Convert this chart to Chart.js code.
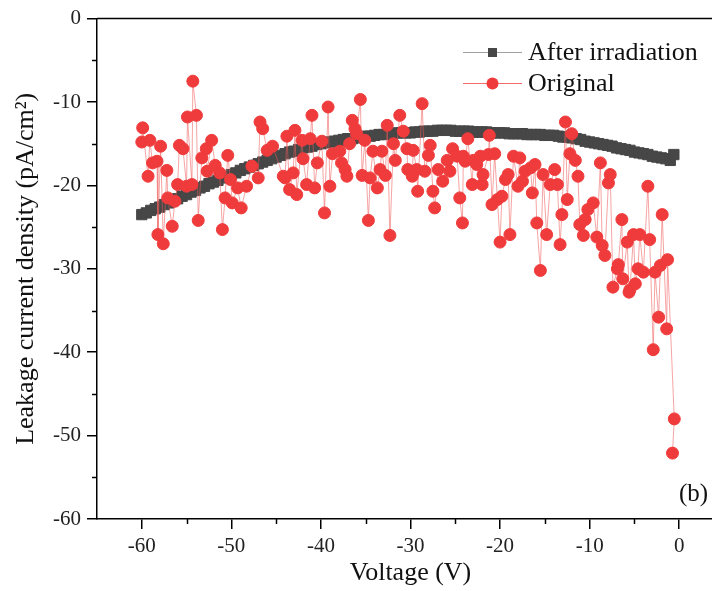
<!DOCTYPE html>
<html>
<head>
<meta charset="utf-8">
<script src="https://cdn.jsdelivr.net/npm/chart.js@4.4.1/dist/chart.umd.min.js"></script>
<style>
  html, body { margin: 0; padding: 0; background: #fff; overflow: hidden; }
  #wrap { width: 740px; height: 591px; }
</style>
</head>
<body>
<div id="wrap"><canvas id="chart" width="740" height="591"></canvas></div>
<script>
const X_MIN = -65, X_MAX = 5;
const Y_MIN = -60, Y_MAX = 0;
const MAJOR_X = [-60, -50, -40, -30, -20, -10, 0];
const MINOR_X = [-55, -45, -35, -25, -15, -5];
const MINOR_Y = [-5, -15, -25, -35, -45, -55];

const LABEL_AFTER = "After irradiation";
const LABEL_ORIG = "Original";
const PANEL = "(b)";

// After irradiation: voltage (V), current density (pA/cm2)
const afterV = [
  -60.0,-59.5,-59.0,-58.5,-58.0,-57.5,-57.0,-56.5,-56.0,-55.5,
  -55.0,-54.5,-54.0,-53.5,-53.0,-52.5,-52.0,-51.5,-51.0,-50.5,
  -50.0,-49.5,-49.0,-48.5,-48.0,-47.5,-47.0,-46.5,-46.0,-45.5,
  -45.0,-44.5,-44.0,-43.5,-43.0,-42.5,-42.0,-41.5,-41.0,-40.5,
  -40.0,-39.5,-39.0,-38.5,-38.0,-37.5,-37.0,-36.5,-36.0,-35.5,
  -35.0,-34.5,-34.0,-33.5,-33.0,-32.5,-32.0,-31.5,-31.0,-30.5,
  -30.0,-29.5,-29.0,-28.5,-28.0,-27.5,-27.0,-26.5,-26.0,-25.5,
  -25.0,-24.5,-24.0,-23.5,-23.0,-22.5,-22.0,-21.5,-21.0,-20.5,
  -20.0,-19.5,-19.0,-18.5,-18.0,-17.5,-17.0,-16.5,-16.0,-15.5,
  -15.0,-14.5,-14.0,-13.5,-13.0,-12.5,-12.0,-11.5,-11.0,-10.5,
  -10.0,-9.5,-9.0,-8.5,-8.0,-7.5,-7.0,-6.5,-6.0,-5.5,
  -5.0,-4.5,-4.0,-3.5,-3.0,-2.5,-2.0,-1.5,-1.0,-0.6
];
const afterI = [
  -23.5,-23.3,-23.0,-22.8,-22.6,-22.3,-22.1,-21.8,-21.6,-21.3,
  -21.1,-20.8,-20.6,-20.3,-20.1,-19.8,-19.6,-19.4,-19.1,-18.9,
  -18.7,-18.5,-18.2,-18.0,-17.8,-17.6,-17.4,-17.2,-17.0,-16.8,
  -16.6,-16.4,-16.2,-16.0,-15.9,-15.7,-15.5,-15.4,-15.3,-15.1,
  -15.0,-14.9,-14.8,-14.7,-14.6,-14.5,-14.4,-14.4,-14.3,-14.2,
  -14.1,-14.1,-14.0,-13.9,-13.9,-13.8,-13.8,-13.7,-13.7,-13.7,
  -13.7,-13.6,-13.6,-13.5,-13.5,-13.5,-13.4,-13.4,-13.4,-13.4,
  -13.5,-13.5,-13.5,-13.5,-13.6,-13.6,-13.6,-13.6,-13.7,-13.7,
  -13.7,-13.7,-13.8,-13.8,-13.8,-13.8,-13.9,-13.9,-13.9,-13.9,
  -14.0,-14.0,-14.0,-14.1,-14.2,-14.2,-14.3,-14.4,-14.5,-14.7,
  -14.8,-14.9,-15.0,-15.1,-15.2,-15.3,-15.5,-15.6,-15.7,-15.8,
  -16.0,-16.1,-16.2,-16.3,-16.5,-16.6,-16.7,-16.8,-17.0,-16.3
];

// Original: voltage (V), current density (pA/cm2)
const origV = [
  -60.0,-59.9,-59.3,-59.1,-58.8,-58.3,-58.2,-57.9,-57.6,-57.2,
  -57.1,-56.6,-56.3,-56.0,-55.8,-55.4,-55.0,-54.9,-54.4,-54.3,
  -53.9,-53.7,-53.3,-52.8,-52.7,-52.2,-51.8,-51.3,-51.0,-50.7,
  -50.4,-50.1,-49.9,-49.3,-48.9,-48.3,-47.7,-47.0,-46.8,-46.5,
  -46.0,-45.4,-44.2,-44.0,-43.8,-43.5,-43.1,-42.9,-42.7,-42.1,
  -42.0,-41.6,-41.2,-41.0,-40.7,-40.4,-39.9,-39.6,-39.2,-39.0,
  -38.7,-37.9,-37.7,-37.3,-37.1,-36.8,-36.5,-36.2,-36.0,-35.6,
  -35.4,-35.1,-34.7,-34.5,-34.2,-33.7,-33.4,-33.2,-32.8,-32.6,
  -32.3,-31.9,-31.7,-31.2,-30.8,-30.4,-30.3,-29.8,-29.7,-29.3,
  -29.2,-28.7,-28.4,-28.0,-27.8,-27.5,-27.3,-26.9,-26.4,-25.9,
  -25.6,-25.3,-24.8,-24.5,-24.2,-24.1,-23.9,-23.6,-23.1,-23.0,
  -22.6,-22.2,-22.0,-21.9,-21.3,-21.2,-20.9,-20.6,-20.3,-20.0,
  -19.8,-19.4,-19.1,-18.9,-18.5,-18.0,-17.8,-17.5,-17.2,-16.6,
  -16.4,-16.1,-15.9,-15.5,-15.2,-14.8,-14.4,-13.9,-13.6,-13.3,
  -13.1,-12.7,-12.5,-12.2,-12.0,-11.6,-11.3,-11.1,-10.7,-10.5,
  -10.2,-9.6,-9.2,-8.8,-8.6,-8.3,-7.9,-7.7,-7.4,-6.9,
  -6.8,-6.4,-6.3,-5.8,-5.6,-5.5,-5.1,-4.9,-4.6,-4.4,
  -4.0,-3.5,-3.3,-2.9,-2.7,-2.3,-2.1,-1.9,-1.4,-1.3,
  -0.55,-0.75
];
const origI = [
  -14.8,-13.1,-18.9,-14.6,-17.3,-17.1,-25.9,-15.3,-27.0,-18.2,
  -21.5,-24.9,-21.9,-19.9,-15.2,-15.6,-20.1,-11.8,-19.9,-7.5,
  -11.6,-24.2,-16.7,-15.6,-18.3,-14.6,-17.6,-18.5,-25.3,-21.5,
  -16.4,-19.3,-22.1,-20.3,-22.7,-20.1,-17.7,-19.1,-12.4,-13.2,
  -15.8,-15.3,-18.9,-19.1,-14.1,-20.5,-18.5,-13.4,-21.1,-14.6,
  -16.8,-19.9,-14.4,-11.6,-20.3,-17.3,-14.7,-23.3,-10.6,-20.1,
  -16.2,-15.9,-17.3,-18.1,-18.9,-15.0,-12.2,-13.2,-13.8,-9.7,
  -18.8,-14.6,-24.2,-19.1,-15.9,-20.3,-18.1,-15.9,-18.8,-12.8,
  -26.0,-15.0,-17.0,-11.6,-13.5,-15.6,-18.1,-18.9,-15.8,-18.1,
  -20.7,-10.2,-18.3,-16.4,-15.2,-20.7,-22.7,-18.1,-19.5,-17.0,
  -18.3,-15.6,-16.5,-21.5,-24.5,-16.5,-17.1,-14.4,-19.9,-17.0,
  -17.5,-16.5,-19.9,-18.7,-16.3,-14.0,-22.3,-16.2,-21.7,-26.8,
  -21.3,-19.3,-18.7,-25.9,-16.5,-20.1,-16.7,-19.5,-18.3,-17.9,
  -20.9,-17.5,-24.5,-30.2,-18.7,-25.9,-19.9,-18.1,-19.9,-27.1,
  -23.5,-12.4,-21.7,-16.2,-13.8,-17.0,-18.9,-24.7,-26.0,-24.1,
  -22.9,-22.1,-26.2,-17.3,-27.2,-28.4,-19.7,-18.7,-32.2,-30.0,
  -29.5,-24.1,-31.2,-26.8,-32.8,-32.5,-25.9,-31.8,-30.0,-25.9,
  -30.4,-20.1,-26.5,-39.7,-30.4,-35.8,-29.6,-23.5,-37.2,-28.9,
  -48.0,-52.1
];

const FONT = "'Liberation Serif', 'Times New Roman', serif";
const GRAY = "#474747";
const GRAY_LINE = "#a0a0a0";
const RED = "#ef3b3b";
const RED_LINE = "rgba(240, 90, 90, 0.55)";

function pts(xs, ys) {
  return xs.map((v, i) => ({ x: v, y: ys[i] }));
}

const extras = {
  id: "extras",
  afterDraw(chart) {
    const { ctx, chartArea: a, scales: { x, y } } = chart;
    ctx.save();
    ctx.strokeStyle = "#000";
    ctx.lineWidth = 1.5;
    ctx.beginPath();
    ctx.moveTo(a.left, a.top);
    ctx.lineTo(a.right, a.top);
    ctx.lineTo(a.right, a.bottom);
    for (const v of MINOR_X) {
      const px = Math.round(x.getPixelForValue(v)) + 0.5;
      ctx.moveTo(px, a.bottom);
      ctx.lineTo(px, a.bottom + 5);
    }
    for (const v of MINOR_Y) {
      const py = Math.round(y.getPixelForValue(v)) + 0.5;
      ctx.moveTo(a.left, py);
      ctx.lineTo(a.left - 5, py);
    }
    ctx.stroke();

    // legend
    const rows = [
      { label: LABEL_AFTER, line: GRAY_LINE, fill: GRAY, style: "rect", y: 52 },
      { label: LABEL_ORIG, line: "rgba(240, 70, 70, 0.8)", fill: RED, style: "circle", y: 83 }
    ];
    for (const r of rows) {
      ctx.strokeStyle = r.line;
      ctx.lineWidth = 1.2;
      ctx.beginPath();
      ctx.moveTo(463, r.y + 0.5);
      ctx.lineTo(522, r.y + 0.5);
      ctx.stroke();
      ctx.fillStyle = r.fill;
      if (r.style === "rect") {
        ctx.fillRect(488, r.y - 4, 9, 9);
      } else {
        ctx.beginPath();
        ctx.arc(492.5, r.y + 0.5, 6, 0, Math.PI * 2);
        ctx.fill();
      }
      ctx.fillStyle = "#111";
      ctx.font = "26px " + FONT;
      ctx.textBaseline = "alphabetic";
      ctx.textAlign = "left";
      ctx.fillText(r.label, 528, r.y + 8);
    }

    ctx.font = "25px " + FONT;
    ctx.fillText(PANEL, 679, 501);
    ctx.restore();
  }
};

new Chart(document.getElementById("chart"), {
  type: "line",
  data: {
    datasets: [
      {
        label: LABEL_AFTER,
        data: pts(afterV, afterI),
        order: 1,
        borderColor: GRAY_LINE,
        borderWidth: 1,
        pointStyle: "rect",
        pointRadius: 7.3,
        pointBackgroundColor: GRAY,
        pointBorderColor: GRAY,
        pointBorderWidth: 1,
        tension: 0
      },
      {
        label: LABEL_ORIG,
        data: pts(origV, origI),
        order: 0,
        borderColor: RED_LINE,
        borderWidth: 1,
        pointStyle: "circle",
        pointRadius: 6,
        pointBackgroundColor: RED,
        pointBorderColor: RED,
        pointBorderWidth: 1,
        tension: 0
      }
    ]
  },
  options: {
    responsive: false,
    animation: false,
    devicePixelRatio: 1,
    layout: { padding: { left: 0, top: 14, right: 16, bottom: 0 } },
    plugins: { legend: { display: false }, tooltip: { enabled: false } },
    scales: {
      x: {
        type: "linear",
        min: X_MIN,
        max: X_MAX,
        afterFit: s => { s.height = 72; },
        afterBuildTicks: s => { s.ticks = MAJOR_X.map(v => ({ value: v })); },
        ticks: {
          padding: 5,
          color: "#222",
          font: { family: FONT, size: 21 }
        },
        grid: { drawOnChartArea: false, drawTicks: true, tickLength: 10, color: "#000", lineWidth: 1.5 },
        border: { display: true, color: "#000", width: 1.5 },
        title: {
          display: true,
          text: "Voltage (V)",
          color: "#111",
          font: { family: FONT, size: 26 },
          padding: { top: 0, bottom: 2 }
        }
      },
      y: {
        type: "linear",
        min: Y_MIN,
        max: Y_MAX,
        afterFit: s => { s.width = 97; },
        ticks: {
          stepSize: 10,
          padding: 6,
          color: "#222",
          font: { family: FONT, size: 21 }
        },
        grid: { drawOnChartArea: false, drawTicks: true, tickLength: 10, color: "#000", lineWidth: 1.5 },
        border: { display: true, color: "#000", width: 1.5 },
        title: {
          display: true,
          text: "Leakage current density (pA/cm\u00B2)",
          color: "#111",
          font: { family: FONT, size: 26 },
          padding: { top: 10.5, bottom: 0 }
        }
      }
    }
  },
  plugins: [extras]
});
</script>
</body>
</html>
